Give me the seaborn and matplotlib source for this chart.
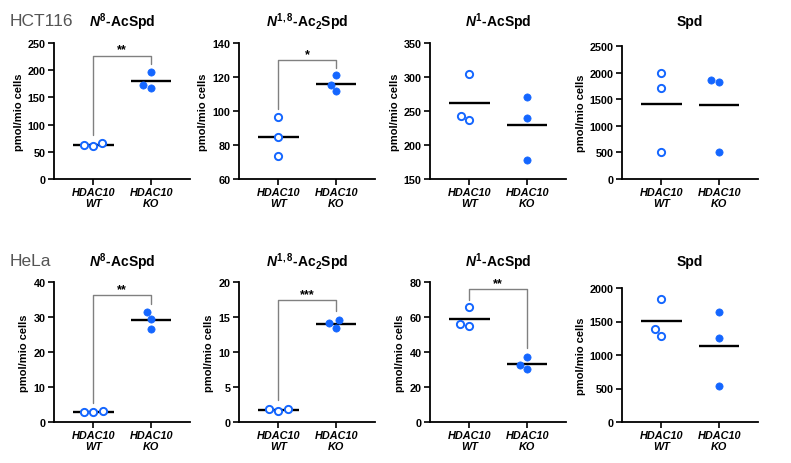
import numpy as np
import matplotlib
matplotlib.use("Agg")
import matplotlib.pyplot as plt
import seaborn as sns

sns.set_style("white")
plt.rcParams["font.family"] = ["Liberation Sans", "DejaVu Sans"]
plt.rcParams["mathtext.fontset"] = "custom"
plt.rcParams["mathtext.rm"] = "Liberation Sans:bold"
plt.rcParams["mathtext.it"] = "Liberation Sans:italic:bold"
plt.rcParams["mathtext.bf"] = "Liberation Sans:bold"
plt.rcParams["text.color"] = "black"
plt.rcParams["axes.labelcolor"] = "black"
plt.rcParams["xtick.color"] = "black"
plt.rcParams["ytick.color"] = "black"

# groups on the x axis
groups = ["HDAC10\nWT", "HDAC10\nKO"]

# HCT116, pmol/mio cells
hct_n8_wt = [61.3, 66.8, 62.0]
hct_n8_ko = [197.0, 168.0, 173.0]
hct_n18_wt = [96.5, 84.7, 73.3]
hct_n18_ko = [121.0, 115.1, 111.6]
hct_n1_wt = [303.8, 237.0, 242.9]
hct_n1_ko = [269.9, 239.0, 178.5]
hct_spd_wt = [2001, 1702, 511]
hct_spd_ko = [1870, 1820, 505]

# HeLa, pmol/mio cells
hela_n8_wt = [2.75, 3.1, 2.75]
hela_n8_ko = [31.4, 29.5, 26.6]
hela_n18_wt = [1.55, 1.91, 1.82]
hela_n18_ko = [14.55, 13.5, 14.1]
hela_n1_wt = [66.0, 54.7, 55.9]
hela_n1_ko = [37.1, 30.4, 32.7]
hela_spd_wt = [1830, 1390, 1290]
hela_spd_ko = [1645, 1250, 530]

titles = [r"$N^{8}$-AcSpd", r"$N^{1,8}$-Ac$_{2}$Spd", r"$N^{1}$-AcSpd", "Spd"]

# significance: (y at WT, y top, y at KO, label)
sig = {
    (0, 0): (81, 227, 211, "**"),
    (0, 1): (101, 130, 125.5, "*"),
    (1, 0): (5.5, 36.2, 33.8, "**"),
    (1, 1): (3.2, 17.4, 15.9, "***"),
    (1, 2): (69.5, 75.8, 42.1, "**"),
}

panels = [
    [(hct_n8_wt, hct_n8_ko, (0, 250), 50),
     (hct_n18_wt, hct_n18_ko, (60, 140), 20),
     (hct_n1_wt, hct_n1_ko, (150, 350), 50),
     (hct_spd_wt, hct_spd_ko, (0, 2500), 500)],
    [(hela_n8_wt, hela_n8_ko, (0, 40), 10),
     (hela_n18_wt, hela_n18_ko, (0, 20), 5),
     (hela_n1_wt, hela_n1_ko, (0, 80), 20),
     (hela_spd_wt, hela_spd_ko, (0, 2000), 500)],
]
row_labels = ["HCT116", "HeLa"]

W, H = 791, 464
blue = "#1466ff"
fig = plt.figure(figsize=(W / 100, H / 100), dpi=100)

lefts = [54, 239, 430, 622]
row_bottom = [180, 423]
row_top = [[44, 44, 44, 47], [283, 283, 283, 289]]
title_y = [22, 262]

for r in range(2):
    fig.text(10 / W, 1 - title_y[r] / H, row_labels[r], fontsize=12.5,
             color="#555555", ha="left", va="center")
    for c in range(4):
        wt, ko, ylim, step = panels[r][c]
        top = row_top[r][c]
        ax = fig.add_axes([lefts[c] / W, 1 - row_bottom[r] / H,
                           136 / W, (row_bottom[r] - top) / H])
        sns.swarmplot(x=[groups[0]] * len(wt), y=wt, order=groups, ax=ax,
                      color="white", edgecolor=blue, linewidth=1.4, size=5.2)
        sns.swarmplot(x=[groups[1]] * len(ko), y=ko, order=groups, ax=ax,
                      color=blue, edgecolor=blue, linewidth=0.5, size=5.2)
        for i, vals in enumerate([wt, ko]):
            ax.hlines(np.mean(vals), i - 0.35, i + 0.35, color="black",
                      lw=1.7, zorder=1)
        if (r, c) in sig:
            y0, yt, y1, lab = sig[(r, c)]
            ax.plot([0, 0, 1, 1], [y0, yt, yt, y1], color="#808080", lw=1.0,
                    clip_on=False, zorder=0)
            ax.text(0.5, yt, lab, ha="center", va="bottom", fontsize=9,
                    fontweight="bold")
        ax.set_xlim(-0.68, 1.67)
        ax.set_ylim(*ylim)
        ax.set_yticks(np.arange(ylim[0], ylim[1] + step / 2, step))
        ax.set_xticks([0, 1])
        ax.set_xticklabels(groups, fontsize=7.8, fontweight="bold",
                           style="italic", linespacing=1.05)
        for t in ax.get_yticklabels():
            t.set_fontweight("bold")
            t.set_fontsize(7.8)
        ax.set_xlabel("")
        ax.set_ylabel("pmol/mio cells", fontsize=8, fontweight="bold",
                      labelpad=3)
        sns.despine(ax=ax)
        for s in ["left", "bottom"]:
            ax.spines[s].set_color("black")
            ax.spines[s].set_linewidth(1.3)
        ax.tick_params(axis="both", direction="out", length=4, width=1.2,
                       color="black", pad=2, left=True, bottom=True)
        ax.patch.set_alpha(0)
        xc = (lefts[c] + 68) / W
        fig.text(xc, 1 - title_y[r] / H, titles[c], fontsize=10,
                 fontweight="bold", ha="center", va="center")

fig.savefig("out.png", dpi=100)
